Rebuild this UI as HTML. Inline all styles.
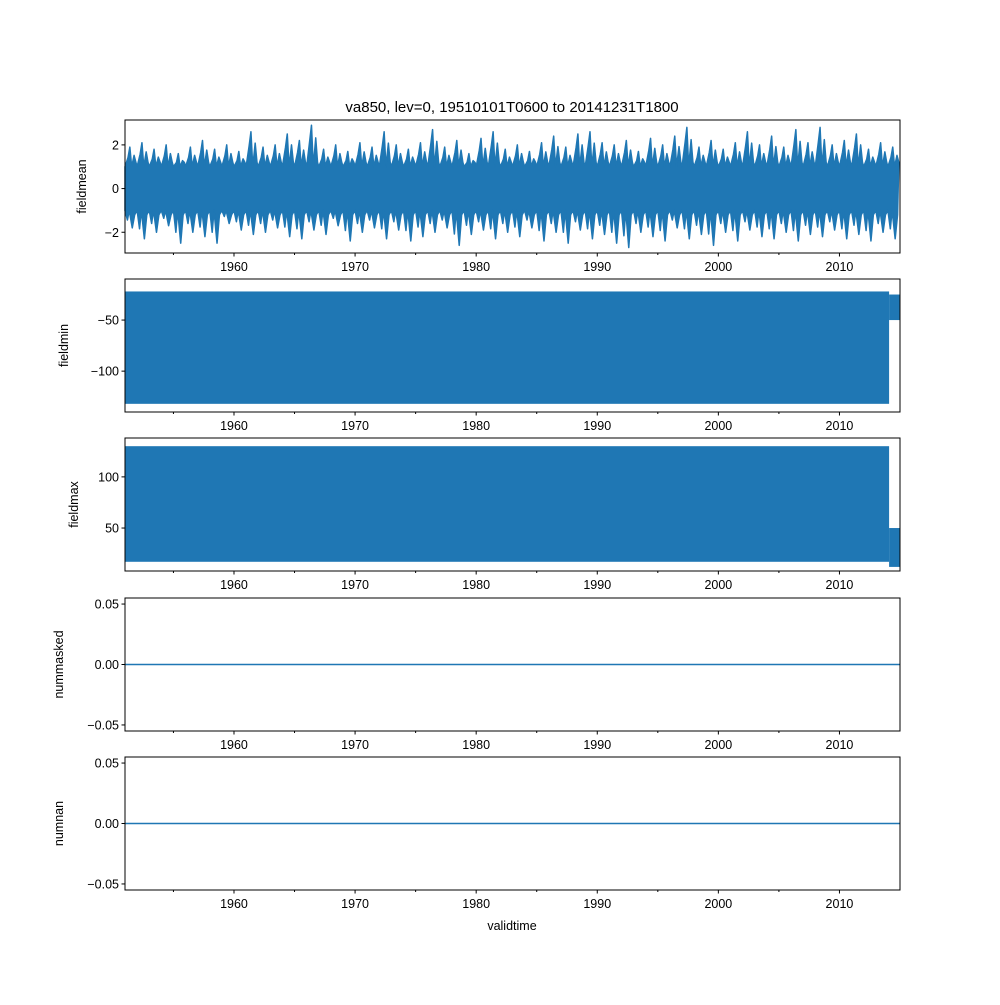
<!DOCTYPE html>
<html><head><meta charset="utf-8"><style>
body{margin:0;background:#fff;font-family:"Liberation Sans","DejaVu Sans",sans-serif;}
svg text{font-family:"Liberation Sans","DejaVu Sans",sans-serif;font-size:12.5px;fill:#000}
</style></head><body>
<svg id="chart" width="1000" height="1000" viewBox="0 0 1000 1000" xmlns="http://www.w3.org/2000/svg">
<text x="512" y="112" text-anchor="middle" style="font-size:15px">va850, lev=0, 19510101T0600 to 20141231T1800</text>
<text x="512" y="930" text-anchor="middle">validtime</text>
</svg>
<script>
const years=[1960,1970,1980,1990,2000,2010];
const minorYears=[1955,1965,1975,1985,1995,2005];
const meanHi=[1.9,2.1,1.8,2.0,1.6,1.9,2.2,1.8,2.0,1.7,2.6,1.9,2.0,2.5,2.2,2.9,1.8,2.0,1.7,2.1,1.9,2.6,2.0,1.8,2.1,2.7,1.9,2.2,1.6,2.3,2.6,1.8,2.0,1.7,2.1,2.4,1.9,2.5,2.6,2.1,2.0,2.2,1.7,2.3,2.0,2.4,2.8,1.9,2.2,1.8,2.1,2.6,2.0,2.4,1.9,2.7,2.1,2.8,2.0,2.2,2.5,1.8,2.1,1.9];
const meanLo=[-1.8,-2.3,-2.0,-1.7,-2.5,-2.0,-2.2,-2.5,-1.6,-1.9,-2.1,-2.0,-1.8,-2.2,-2.3,-1.9,-2.1,-1.7,-2.4,-2.0,-1.8,-2.3,-1.9,-2.4,-2.2,-2.0,-1.8,-2.6,-2.1,-1.9,-2.3,-2.0,-2.2,-1.8,-2.4,-2.0,-2.5,-1.9,-2.3,-2.1,-2.5,-2.7,-2.0,-2.2,-2.4,-1.8,-2.3,-2.1,-2.6,-2.0,-2.4,-1.9,-2.2,-2.3,-2.0,-2.4,-2.1,-2.2,-1.9,-2.3,-2.1,-2.4,-2.0,-2.3];
const meanCore=[1.0,-1.0];
const minBand=[-22,-132]; const minTail=[-25,-50];
const maxBand=[130,17]; const maxTail=[50,12];
const splitYear=2014.1;
const X0=1951.0,X1=2015.0,L=125,R=900;
const panels=[
 {top:120,bot:253,y0:-2.95,y1:3.14,ticks:[-2,0,2],lab:['−2','0','2'],name:'fieldmean'},
 {top:279,bot:412,y0:-140,y1:-9.8,ticks:[-100,-50],lab:['−100','−50'],name:'fieldmin'},
 {top:438,bot:571,y0:8,y1:138,ticks:[50,100],lab:['50','100'],name:'fieldmax'},
 {top:598,bot:731,y0:-0.055,y1:0.055,ticks:[-0.05,0,0.05],lab:['−0.05','0.00','0.05'],name:'nummasked'},
 {top:757,bot:890,y0:-0.055,y1:0.055,ticks:[-0.05,0,0.05],lab:['−0.05','0.00','0.05'],name:'numnan'}];
const svg=document.getElementById('chart');const NS='http://www.w3.org/2000/svg';
const xs=t=>L+(t-X0)/(X1-X0)*(R-L);
function mk(tag,at,p){const e=document.createElementNS(NS,tag);for(const k in at)e.setAttribute(k,at[k]);(p||svg).appendChild(e);return e;}
const C='#1f77b4';
panels.forEach((p,i)=>{
 const ys=v=>p.bot-(v-p.y0)/(p.y1-p.y0)*(p.bot-p.top);
 const g=mk('g',{});
 
 
 if(i===0){
  let top=[],bot=[];
  meanHi.forEach((h,k)=>{const t=X0+k;
   top.push([xs(t),ys(meanCore[0])],[xs(t+0.25),ys(h*0.75)],[xs(t+0.4),ys(h)],[xs(t+0.55),ys(meanCore[0])],[xs(t+0.75),ys(h*0.8)],[xs(t+0.9),ys(meanCore[0]+0.2)]);
   const lo=meanLo[k];
   bot.push([xs(t),ys(meanCore[1])],[xs(t+0.2),ys(lo*0.8)],[xs(t+0.35),ys(meanCore[1])],[xs(t+0.6),ys(lo)],[xs(t+0.8),ys(meanCore[1]-0.2)]);
  });
  bot.reverse();
  const e=mk('polygon',{points:top.concat(bot).map(q=>q.join(',')).join(' '),fill:C,stroke:C,'stroke-width':1.5,'stroke-linejoin':'round'},g);
  
  
 } else if(i===1||i===2){
  const b=i===1?minBand:maxBand,tl=i===1?minTail:maxTail;
  const e=mk('rect',{x:xs(X0),y:ys(Math.max(...b)),width:xs(splitYear)-xs(X0),height:Math.abs(ys(b[0])-ys(b[1])),fill:C},g);
  
  
  const e2=mk('rect',{x:xs(splitYear),y:ys(Math.max(...tl)),width:xs(X1)-xs(splitYear),height:Math.abs(ys(tl[0])-ys(tl[1])),fill:C},g);
  
  
 } else {
  const e=mk('line',{x1:L,x2:R,y1:ys(0),y2:ys(0),stroke:C,'stroke-width':1.5},g);
  
  
 }
 const fr=mk('rect',{x:L,y:p.top,width:R-L,height:p.bot-p.top,fill:'none',stroke:'#000','stroke-width':1},g);
 
 
 p.ticks.forEach((v,k)=>{const y=ys(v);
  mk('line',{x1:L-3.5,x2:L,y1:y,y2:y,stroke:'#000'},g);
  const t=mk('text',{x:L-6,y:y+4.5,'text-anchor':'end'},g);t.textContent=p.lab[k];
  
  
 });
 years.forEach(yr=>{const x=xs(yr);mk('line',{x1:x,x2:x,y1:p.bot,y2:p.bot+3.5,stroke:'#000'},g);
  const t=mk('text',{x:x,y:p.bot+18,'text-anchor':'middle'},g);t.textContent=yr;
  
  });
 minorYears.forEach(yr=>{const x=xs(yr);mk('line',{x1:x,x2:x,y1:p.bot,y2:p.bot+2,stroke:'#000'},g);});
 const yl=mk('text',{x:0,y:0,'text-anchor':'middle',transform:`translate(${i===0?86:i===1?68:i===2?78:63},${(p.top+p.bot)/2}) rotate(-90)`},g);
 yl.textContent=p.name;
 
 
});
</script>
</body></html>
